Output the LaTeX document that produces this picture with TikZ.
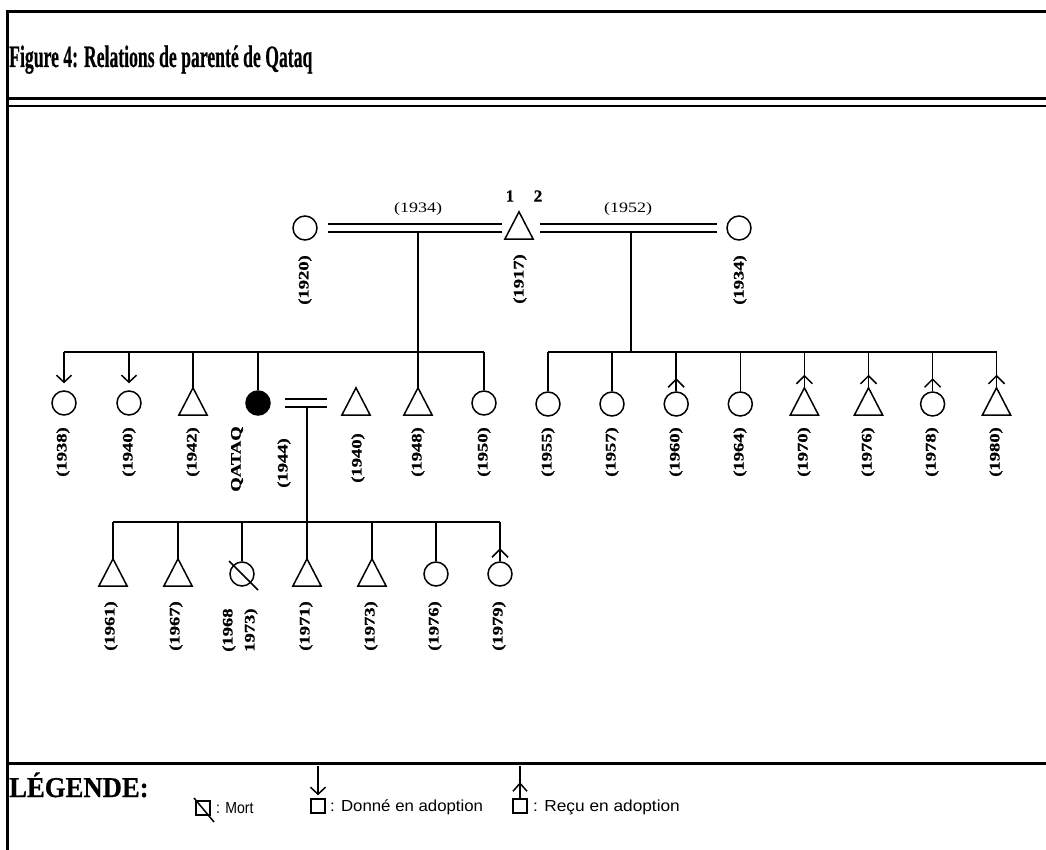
\documentclass[tikz,border=0pt]{standalone}
\usepackage{fontspec}
\setmainfont{Liberation Serif}
\newfontfamily\legfont{Liberation Sans}
\newfontfamily\heavyfont[FakeBold=0.6]{Liberation Serif}
\usetikzlibrary{arrows.meta}
\newcommand\ylab[1]{\scalebox{1}[0.78]{#1}}
\begin{document}
\begin{tikzpicture}[x=1pt,y=-1pt,
  lw/.style={line width=1.5pt},
  fem/.style={circle, draw, lw, minimum size=24pt, inner sep=0pt},
  femq/.style={fem, fill=black},
  malebox/.style={rectangle, minimum width=28pt, minimum height=27pt, inner sep=0pt},
  tri/.style={lw, line join=miter},
  link/.style={lw},
  marr/.style={line width=1.5pt, double, double distance=6.2pt},
  given/.style={lw, -{Straight Barb[length=7pt, width=15pt, line width=1.5pt]}},
  caret/.style={lw, line join=miter},
  yr/.style={rotate=90, inner sep=0pt, font=\heavyfont\bfseries\fontsize{18.6}{18}\selectfont},
  myear/.style={inner sep=0pt, font=\fontsize{18}{18}\selectfont},
  rank/.style={inner sep=0pt, font=\heavyfont\bfseries\fontsize{17}{17}\selectfont},
  frame/.style={line width=3pt},
  thinframe/.style={line width=1.5pt},
  legbox/.style={rectangle, draw, lw, minimum size=14pt, inner sep=0pt},
  legtext/.style={anchor=west, inner sep=0pt, font=\legfont\fontsize{16}{16}\selectfont}
]
\path[use as bounding box, fill=white] (0,0) rectangle (1046,850);

% frame
\draw[frame] (7,850) -- (7,12) -- (1046,12);
\draw[frame] (7,99) -- (1046,99);
\draw[thinframe] (7,106) -- (1046,106);
\draw[frame] (7,763) -- (1046,763);

\node[anchor=base west, inner sep=0pt] (title) at (9,67)
  {\heavyfont\fontsize{31}{31}\selectfont\bfseries\scalebox{0.57}[1]{Figure 4: Relations de parenté de Qataq}};

% ---------- generation 1
\node[fem] (w1) at (305,228) {};
\node[malebox] (h) at (519,225.5) {};
\node[fem] (w2) at (739,228) {};
\node[rank] (r1) at (510,196) {1};
\node[rank] (r2) at (538,196) {2};
\coordinate (m1a) at (328,228); \coordinate (m1b) at (502,228);
\coordinate (m2a) at (540,228); \coordinate (m2b) at (717,228);
\draw[marr] (m1a) -- (m1b);
\draw[marr] (m2a) -- (m2b);
\node[myear] (y34) at (418,209) {\scalebox{1}[0.8]{(1934)}};
\node[myear] (y52) at (628,209) {\scalebox{1}[0.8]{(1952)}};
\node[yr] (l1920) at (305,280) {\ylab{(1920)}};
\node[yr] (l1917) at (520,279) {\ylab{(1917)}};
\node[yr] (l1934) at (740,280) {\ylab{(1934)}};

% drops to sibling bars
\coordinate (d1t) at (418,232); \coordinate (d1b) at (418,352);
\coordinate (d2t) at (631,232); \coordinate (d2b) at (631,352);
\draw[link] (d1t) -- (d1b);
\draw[link] (d2t) -- (d2b);

% ---------- generation 2, first marriage
\coordinate (bA1) at (64,352); \coordinate (bA2) at (484,352);
\draw[link] (bA1) -- (bA2);
\node[fem] (a1) at (64,403) {};
\node[fem] (a2) at (129,403) {};
\node[malebox] (a3) at (193,401.5) {};
\node[femq] (q) at (258,403) {};
\node[malebox] (hq) at (356,401.5) {};
\node[malebox] (a5) at (418,401.5) {};
\node[fem] (a6) at (484,403) {};
\draw[given] (a1.north |- bA1) -- ([yshift=7pt]a1.north);
\draw[given] (a2.north |- bA1) -- ([yshift=7pt]a2.north);
\foreach \n in {a3,q,a5,a6} \draw[link] (\n.north |- bA1) -- (\n.north);

\node[yr] (l1938) at (63,452) {\ylab{(1938)}};
\node[yr] (l1940a) at (129,452) {\ylab{(1940)}};
\node[yr] (l1942) at (193,452) {\ylab{(1942)}};
\node[yr] (lq) at (237,459) {\ylab{QATAQ}};
\node[yr] (l1944) at (284,463) {\ylab{(1944)}};
\node[yr] (l1940b) at (358,458) {\ylab{(1940)}};
\node[yr] (l1948) at (418,452) {\ylab{(1948)}};
\node[yr] (l1950) at (484,452) {\ylab{(1950)}};

% Qataq marriage
\coordinate (mqa) at (285,403); \coordinate (mqb) at (327,403);
\draw[marr] (mqa) -- (mqb);
\coordinate (dqt) at (307,407); \coordinate (dqb) at (307,522);
\draw[link] (dqt) -- (dqb);

% ---------- generation 2, second marriage
\coordinate (bB1) at (548,352); \coordinate (bB2) at (996.5,352);
\draw[link] (bB1) -- (bB2);
\node[fem] (b1) at (548,404) {};
\node[fem] (b2) at (612,404) {};
\node[fem] (b3) at (676.2,404) {};
\node[fem] (b4) at (740.3,404) {};
\node[malebox] (b5) at (804.4,401.5) {};
\node[malebox] (b6) at (868.5,401.5) {};
\node[fem] (b7) at (932.6,404) {};
\node[malebox] (b8) at (996.5,401.5) {};
\foreach \n in {b1,b2,b3,b4,b5,b6,b7,b8} \draw[link] (\n.north |- bB1) -- (\n.north);
\foreach \n in {b3,b5,b6,b7,b8}
  \draw[caret] ([shift={(-8,-4)}]\n.north) -- ([shift={(0,-12)}]\n.north) -- ([shift={(8,-4)}]\n.north);

\node[yr] (l1955) at (548,452) {\ylab{(1955)}};
\node[yr] (l1957) at (612,452) {\ylab{(1957)}};
\node[yr] (l1960) at (676,452) {\ylab{(1960)}};
\node[yr] (l1964) at (740,452) {\ylab{(1964)}};
\node[yr] (l1970) at (804,452) {\ylab{(1970)}};
\node[yr] (l1976a) at (868,452) {\ylab{(1976)}};
\node[yr] (l1978) at (932,452) {\ylab{(1978)}};
\node[yr] (l1980) at (996,452) {\ylab{(1980)}};

% ---------- generation 3
\coordinate (bC1) at (113,522); \coordinate (bC2) at (500,522);
\draw[link] (bC1) -- (bC2);
\node[malebox] (c1) at (113,572.5) {};
\node[malebox] (c2) at (178,572.5) {};
\node[fem] (c3) at (242,574) {};
\node[malebox] (c4) at (307,572.5) {};
\node[malebox] (c5) at (372,572.5) {};
\node[fem] (c6) at (436,574) {};
\node[fem] (c7) at (500,574) {};
\foreach \n in {c1,c2,c3,c4,c5,c6,c7} \draw[link] (\n.north |- bC1) -- (\n.north);
\draw[caret] ([shift={(-8,-4)}]c7.north) -- ([shift={(0,-12)}]c7.north) -- ([shift={(8,-4)}]c7.north);
\draw[link] ([shift={(-13,-13)}]c3.center) -- ([shift={(16,16)}]c3.center);

\node[yr] (l1961) at (111,626) {\ylab{(1961)}};
\node[yr] (l1967) at (176,626) {\ylab{(1967)}};
\node[yr, anchor=west] (l1968) at (229,652) {\ylab{(1968}};
\node[yr, anchor=west] (l1973a) at (251,652) {\ylab{1973)}};
\node[yr] (l1971) at (306,626) {\ylab{(1971)}};
\node[yr] (l1973b) at (371,626) {\ylab{(1973)}};
\node[yr] (l1976b) at (435,626) {\ylab{(1976)}};
\node[yr] (l1979) at (499,626) {\ylab{(1979)}};

% male triangles
\foreach \n in {h,a3,hq,a5,b5,b6,b8,c1,c2,c4,c5}
  \draw[tri] (\n.south west) -- (\n.north) -- (\n.south east) -- cycle;

% ---------- legend
\node[anchor=base west, inner sep=0pt] (leg) at (9,797)
  {\heavyfont\fontsize{28.7}{29}\selectfont\bfseries\scalebox{0.93}[1]{LÉGENDE:}};
\node[legbox] (sqm) at (203,808) {};
\draw[link] ([shift={(-9,-10)}]sqm.center) -- ([shift={(11,14)}]sqm.center);
\node[legtext] (tm) at (216,808) {\scalebox{0.88}[1]{: Mort}};

\node[legbox] (sqd) at (318,806) {};
\coordinate (sqdt) at (318,766);
\draw[given] (sqdt) -- ([yshift=3pt]sqd.north);
\node[legtext] (td) at (330,807) {\scalebox{1.05}[1]{: Donné en adoption}};

\node[legbox] (sqr) at (520,806) {};
\coordinate (sqrt) at (520,766);
\draw[link] (sqrt) -- (sqr.north);
\draw[caret] ([shift={(-7,-7)}]sqr.north) -- ([shift={(0,-15)}]sqr.north) -- ([shift={(7,-7)}]sqr.north);
\node[legtext] (tr) at (533,807) {\scalebox{1.08}[1]{: Reçu en adoption}};
\end{tikzpicture}
\end{document}
